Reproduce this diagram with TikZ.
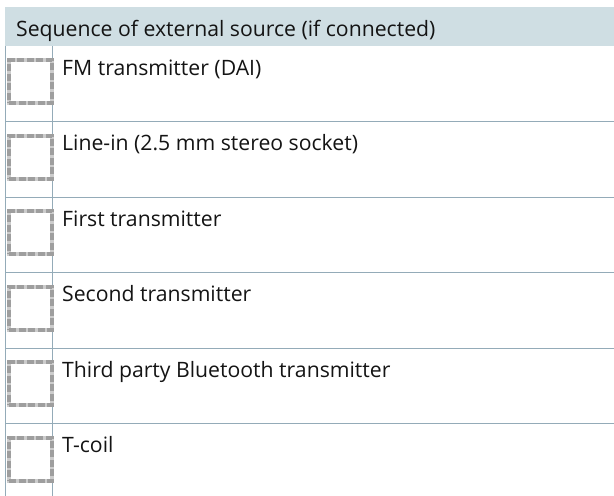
\documentclass[tikz,border=0pt]{standalone}
\usepackage{fontspec}
\setmainfont{Open Sans}
\usetikzlibrary{positioning}
\definecolor{ccdde4}{rgb}{0.81,0.87,0.89}
\definecolor{qqbbcc}{rgb}{0.58,0.67,0.72}
\definecolor{aaaaaa}{rgb}{0.62,0.62,0.62}
\definecolor{dddddd}{rgb}{0.8,0.8,0.8}
\definecolor{txtgray}{rgb}{0.08,0.08,0.08}
\tikzset{
  rowtext/.style={anchor=base west,inner sep=0pt,text=txtgray,font=\fontsize{21.2}{24}\selectfont},
  chkbox/.style={draw=dddddd,line width=4pt,minimum size=43pt,inner sep=0pt,anchor=north west,
    postaction={draw=aaaaaa,line width=4pt,dash pattern=on 7pt off 2.5pt}},
  rule/.style={color=qqbbcc,line width=0.8pt}
}
\begin{document}
\begin{tikzpicture}[x=1pt,y=-1pt,line cap=butt,line join=miter]
\useasboundingbox (0,0) rectangle (614,496);
% header
\fill [color=ccdde4] (5,7) rectangle (614,46);
\node[rowtext] (head) at (16,36) {Sequence of external source (if connected)};
% grid
\coordinate (tl) at (5,46);
\coordinate (bl) at (5,496);
\coordinate (tm) at (52,46);
\coordinate (bm) at (52,496);
\draw [rule] (tl) -- (bl);
\draw [rule] (tm) -- (bm);
\coordinate (r1l) at (5,121.5); \coordinate (r1r) at (614,121.5);
\coordinate (r2l) at (5,197); \coordinate (r2r) at (614,197);
\coordinate (r3l) at (5,272.5); \coordinate (r3r) at (614,272.5);
\coordinate (r4l) at (5,348); \coordinate (r4r) at (614,348);
\coordinate (r5l) at (5,423.5); \coordinate (r5r) at (614,423.5);
\draw [rule] (r1l) -- (r1r);
\draw [rule] (r2l) -- (r2r);
\draw [rule] (r3l) -- (r3r);
\draw [rule] (r4l) -- (r4r);
\draw [rule] (r5l) -- (r5r);
% boxes
\node[chkbox] (box1) at (7,58) {};
\node[chkbox] (box2) at (7,133.5) {};
\node[chkbox] (box3) at (7,209) {};
\node[chkbox] (box4) at (7,284.5) {};
\node[chkbox] (box5) at (7,360) {};
\node[chkbox] (box6) at (7,435.5) {};
% texts
\node[rowtext] (fm) at (62,75) {FM transmitter (DAI)};
\node[rowtext] (linein) at (62,150.5) {Line-in (2.5 mm stereo socket)};
\node[rowtext] (first) at (62,226) {First transmitter};
\node[rowtext] (second) at (62,301.5) {Second transmitter};
\node[rowtext] (third) at (62,377) {Third party Bluetooth transmitter};
\node[rowtext] (tcoil) at (62,452.5) {T-coil};
\end{tikzpicture}
\end{document}
